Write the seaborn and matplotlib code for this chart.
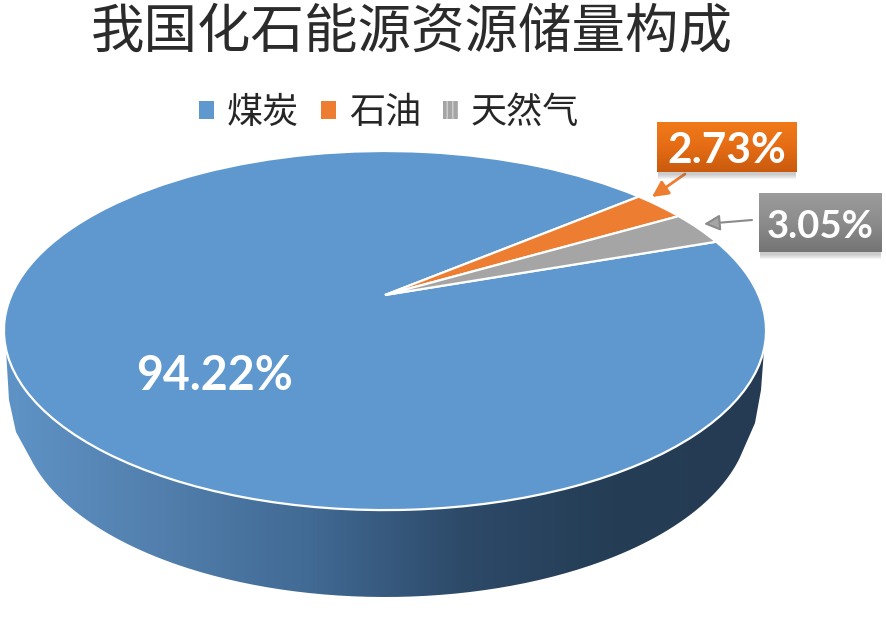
import matplotlib
matplotlib.use("Agg")
import matplotlib.pyplot as plt
import seaborn as sns
import numpy as np
from matplotlib.colors import LinearSegmentedColormap
from matplotlib.patches import PathPatch, Rectangle
from matplotlib.path import Path
from matplotlib.transforms import Transform

# Data
title = '我国化石能源资源储量构成'
categories = ['煤炭', '石油', '天然气']
shares = [94.22, 2.73, 3.05]
share_labels = ['94.22%', '2.73%', '3.05%']

sns.set_theme(style='white')
plt.rcParams['font.family'] = ['Noto Sans CJK SC', 'DejaVu Sans']
colors = sns.color_palette(['#5e98ce', '#ed7d31', '#a5a5a5'])


class TiltTransform(Transform):
    """Perspective map from the unit pie to image pixels."""
    input_dims = 2
    output_dims = 2

    def __init__(self, cx, cy, a, b, k):
        super().__init__()
        self.cx, self.cy, self.a, self.b, self.k = cx, cy, a, b, k

    def transform_non_affine(self, values):
        x, y = values[:, 0], values[:, 1]
        w = 1 + self.k * y
        return np.column_stack([self.cx + self.a * x / w, self.cy - self.b * y / w])


def gradient_fill(ax, patch, extent, stops, vertical=False, zorder=1):
    """Fill a patch outline with a linear gradient."""
    cmap = LinearSegmentedColormap.from_list('fill', stops)
    grad = np.linspace(0, 1, 256)
    grad = grad.reshape(-1, 1) if vertical else grad.reshape(1, -1)
    im = ax.imshow(grad, extent=extent, aspect='auto', cmap=cmap, origin='upper', zorder=zorder)
    patch.set(facecolor='none', edgecolor='none')
    ax.add_patch(patch)
    im.set_clip_path(patch)


def label_box(ax, x0, y0, x1, y1, stops, text, size):
    """Callout box with soft shadow and gradient."""
    for i in range(1, 6):
        ax.add_patch(Rectangle((x0 + 1, y0 + 2), x1 - x0 - 2, y1 - y0 + i, fc='#606060', ec='none',
                               alpha=0.07, zorder=5))
    rect = Rectangle((x0, y0), x1 - x0, y1 - y0)
    gradient_fill(ax, rect, (x0, x1, y1, y0), stops, vertical=True, zorder=6)
    ax.text((x0 + x1) / 2, (y0 + y1) / 2 + 4, text, color='white', fontsize=size, fontweight='bold',
            family='Lato', ha='center', va='center', zorder=7)


fig = plt.figure(figsize=(8.87, 6.18), dpi=100)
ax = fig.add_axes([0, 0, 1, 1])

# Pie, clockwise, with the small slices at the upper right
wedges, _ = ax.pie(shares, colors=colors, startangle=19.2, counterclock=False,
                   wedgeprops={'edgecolor': 'white', 'linewidth': 1.6, 'zorder': 3})
tilt = TiltTransform(385, 295, 373.5, 172.5, 0.198)
for w in wedges:
    w.set_transform(tilt + ax.transData)

ax.set_aspect('auto')
ax.set_xlim(0, 887)
ax.set_ylim(618, 0)
ax.axis('off')

# Side wall of the disc: lower arc with a steep shoulder either side
theta = np.linspace(np.pi + 0.24, 2 * np.pi - 0.24, 200)
arc = np.column_stack([385 + 365 * np.cos(theta), 415 - 182 * np.sin(theta)])
side_pts = np.vstack([[[6, 350], [9, 400], [16, 432]], arc, [[755, 423], [761, 390], [764, 350], [6, 350]]])
side = PathPatch(Path(side_pts))
gradient_fill(ax, side, (6, 764, 600, 340),
              ['#5f93c6', '#527fad', '#416a94', '#2d4a69', '#253d55', '#243b53'], zorder=1)

# Callouts
label_box(ax, 657, 122, 797, 172, ['#f07a1a', '#e56c14', '#c95a0e'], share_labels[1], 30.5)
label_box(ax, 759, 193, 882, 252, ['#9c9c9c', '#8c8c8c', '#747474'], share_labels[2], 27.5)
ax.annotate('', xy=(652, 197), xytext=(685, 174), zorder=4,
            arrowprops=dict(arrowstyle='-|>', color=colors[1], lw=2, mutation_scale=24, shrinkA=0, shrinkB=0))
ax.annotate('', xy=(704, 224), xytext=(752, 220), zorder=4,
            arrowprops=dict(arrowstyle='-|>', color='#8a8a8a', lw=1.5, mutation_scale=24, shrinkA=0, shrinkB=0,
                            fc='#a5a5a5'))

ax.text(215, 376, share_labels[0], color='white', fontsize=33.5, fontweight='bold', family='Lato',
        ha='center', va='center', zorder=5)

ax.text(412, 32, title, color='#2b2b2b', fontsize=38.5, ha='center', va='center')

leg = ax.legend(wedges, categories, loc='center', bbox_to_anchor=(389 / 887, 1 - 113 / 618), ncol=3,
                frameon=False, fontsize=26, handlelength=0.42, handleheight=0.42, handletextpad=0.36,
                columnspacing=0.6, borderpad=0, labelcolor='#262626')
for h in leg.get_patches():
    h.set_linewidth(0)
leg.get_patches()[2].set(hatch='|||', edgecolor='#d0d0d0')

fig.savefig('out.png', dpi=100)
